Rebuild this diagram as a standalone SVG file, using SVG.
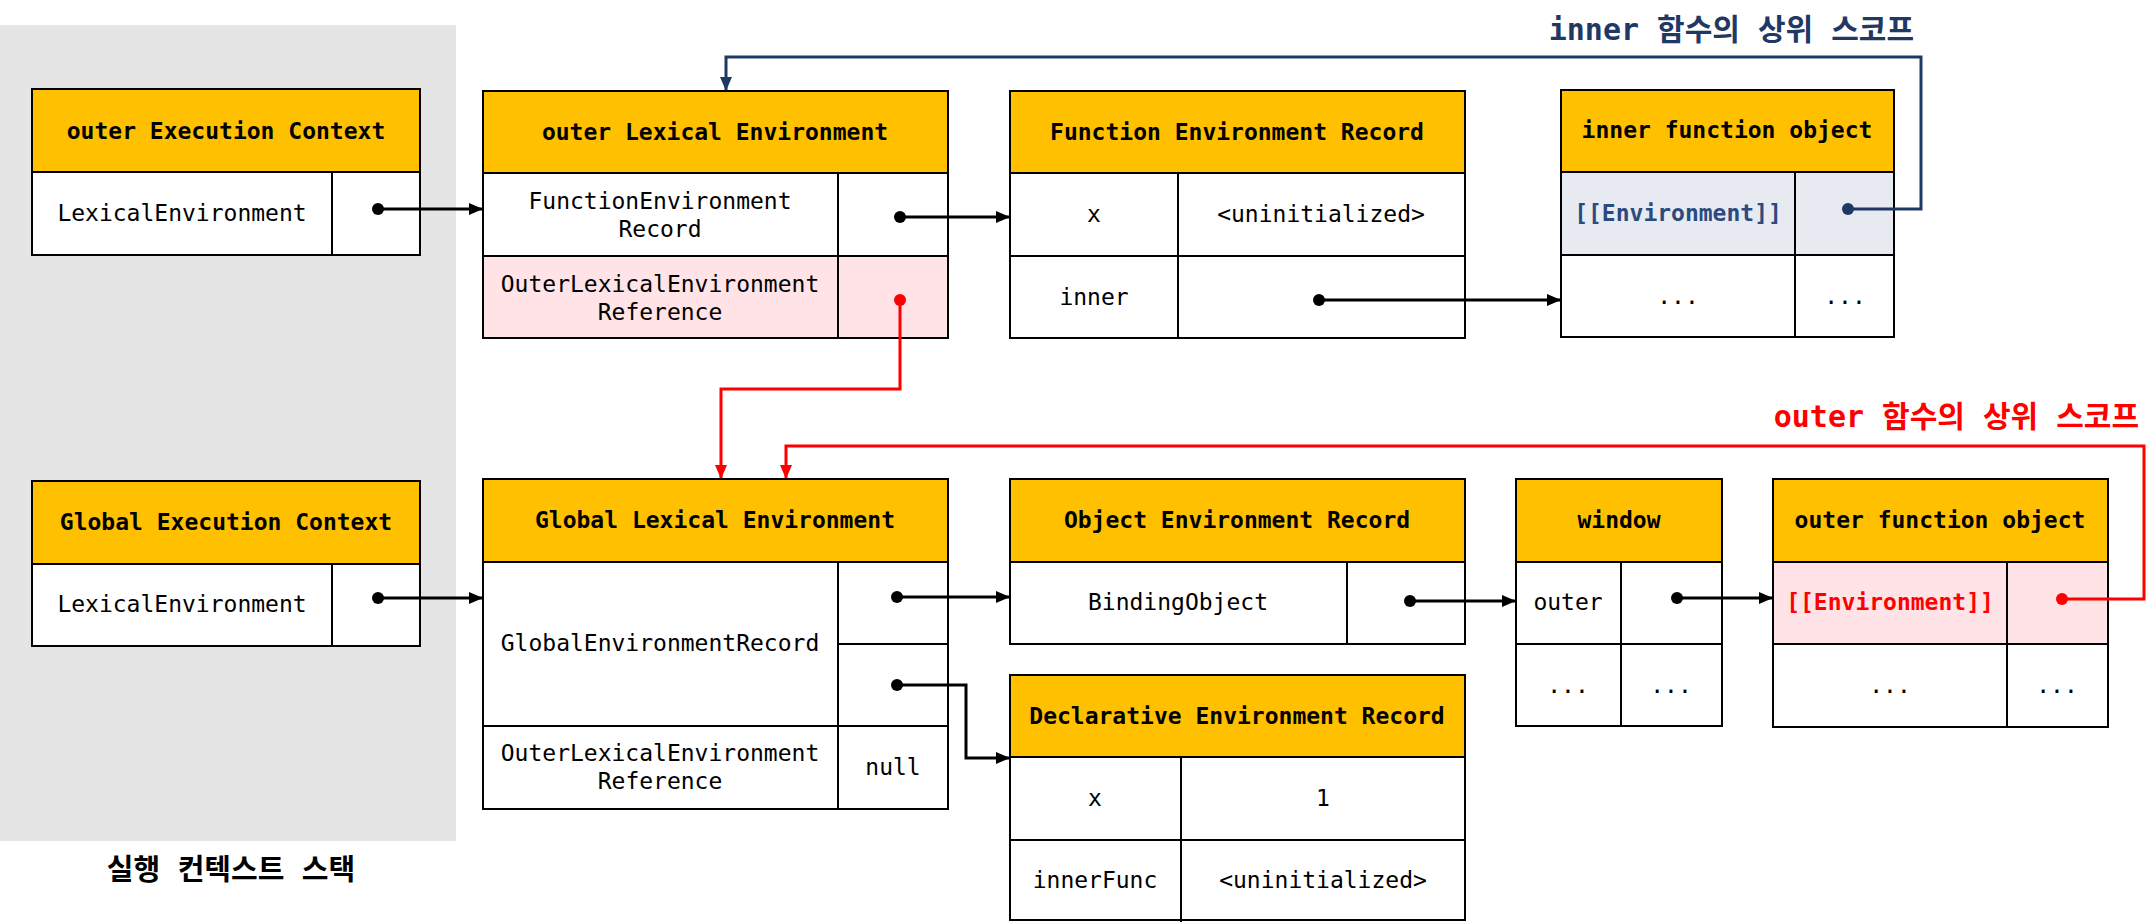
<svg xmlns="http://www.w3.org/2000/svg" width="2156" height="922" viewBox="0 0 2156 922">
<defs>
<style>
text{font-family:"DejaVu Sans Mono","Noto Sans CJK KR",monospace;font-size:23px;fill:#000;text-anchor:middle;dominant-baseline:central}
.h{font-weight:bold}
.box{fill:#fff;stroke:#000;stroke-width:2}
.hd{fill:#ffc000;stroke:#000;stroke-width:2}
.ln{stroke:#000;stroke-width:2;fill:none}
.pink{fill:#ffe3e6;stroke:none}
.bluebg{fill:#e7eaf0;stroke:none}
.c{fill:none;stroke:#000;stroke-width:3}
.cb{fill:none;stroke:#1f3864;stroke-width:3}
.cr{fill:none;stroke:#ff0000;stroke-width:3}
.lbl{font-weight:bold;font-size:30px;text-anchor:end;dominant-baseline:alphabetic}
</style>
<marker id="ak" markerUnits="userSpaceOnUse" markerWidth="14" markerHeight="12" refX="13" refY="6" orient="auto"><path d="M0,0 L14,6 L0,12 Z" fill="#000"/></marker>
<marker id="ab" markerUnits="userSpaceOnUse" markerWidth="14" markerHeight="12" refX="13" refY="6" orient="auto"><path d="M0,0 L14,6 L0,12 Z" fill="#1f3864"/></marker>
<marker id="ar" markerUnits="userSpaceOnUse" markerWidth="14" markerHeight="12" refX="13" refY="6" orient="auto"><path d="M0,0 L14,6 L0,12 Z" fill="#ff0000"/></marker>
</defs>
<rect x="0" y="25" width="456" height="816" fill="#e5e5e5"/>
<text x="231" y="870" class="h" style="font-size:29px">실행 컨텍스트 스택</text>

<g id="outer-ec">
<rect class="box" x="32" y="89" width="388" height="166"/>
<rect class="hd" x="32" y="89" width="388" height="83"/>
<line class="ln" x1="332" y1="172" x2="332" y2="255"/>
<text class="h" x="226" y="131">outer Execution Context</text>
<text x="182" y="213">LexicalEnvironment</text>
</g>

<g id="outer-le">
<rect class="box" x="483" y="91" width="465" height="247"/>
<rect class="pink" x="484" y="256" width="463" height="81"/>
<rect class="hd" x="483" y="91" width="465" height="82"/>
<line class="ln" x1="483" y1="256" x2="948" y2="256"/>
<line class="ln" x1="838" y1="173" x2="838" y2="338"/>
<text class="h" x="715" y="132">outer Lexical Environment</text>
<text x="660" y="201">FunctionEnvironment</text>
<text x="660" y="229">Record</text>
<text x="660" y="284">OuterLexicalEnvironment</text>
<text x="660" y="312">Reference</text>
</g>

<g id="fer">
<rect class="box" x="1010" y="91" width="455" height="247"/>
<rect class="hd" x="1010" y="91" width="455" height="82"/>
<line class="ln" x1="1010" y1="256" x2="1465" y2="256"/>
<line class="ln" x1="1178" y1="173" x2="1178" y2="338"/>
<text class="h" x="1237" y="132">Function Environment Record</text>
<text x="1094" y="214">x</text>
<text x="1321" y="214">&lt;uninitialized&gt;</text>
<text x="1094" y="297">inner</text>
</g>

<g id="inner-fo">
<rect class="box" x="1561" y="90" width="333" height="247"/>
<rect class="bluebg" x="1562" y="172" width="331" height="83"/>
<rect class="hd" x="1561" y="90" width="333" height="82"/>
<line class="ln" x1="1561" y1="255" x2="1894" y2="255"/>
<line class="ln" x1="1795" y1="172" x2="1795" y2="337"/>
<text class="h" x="1727" y="130">inner function object</text>
<text class="h" x="1678" y="213" style="fill:#2b4a80">[[Environment]]</text>
<text x="1678" y="296">...</text>
<text x="1845" y="296">...</text>
</g>

<g id="global-ec">
<rect class="box" x="32" y="481" width="388" height="165"/>
<rect class="hd" x="32" y="481" width="388" height="83"/>
<line class="ln" x1="332" y1="564" x2="332" y2="646"/>
<text class="h" x="226" y="522">Global Execution Context</text>
<text x="182" y="604">LexicalEnvironment</text>
</g>

<g id="global-le">
<rect class="box" x="483" y="479" width="465" height="330"/>
<rect class="hd" x="483" y="479" width="465" height="83"/>
<line class="ln" x1="838" y1="562" x2="838" y2="809"/>
<line class="ln" x1="838" y1="644" x2="948" y2="644"/>
<line class="ln" x1="483" y1="726" x2="948" y2="726"/>
<text class="h" x="715" y="520">Global Lexical Environment</text>
<text x="660" y="643">GlobalEnvironmentRecord</text>
<text x="660" y="753">OuterLexicalEnvironment</text>
<text x="660" y="781">Reference</text>
<text x="893" y="767">null</text>
</g>

<g id="oer">
<rect class="box" x="1010" y="479" width="455" height="165"/>
<rect class="hd" x="1010" y="479" width="455" height="83"/>
<line class="ln" x1="1347" y1="562" x2="1347" y2="644"/>
<text class="h" x="1237" y="520">Object Environment Record</text>
<text x="1178" y="602">BindingObject</text>
</g>

<g id="window">
<rect class="box" x="1516" y="479" width="206" height="247"/>
<rect class="hd" x="1516" y="479" width="206" height="83"/>
<line class="ln" x1="1516" y1="644" x2="1722" y2="644"/>
<line class="ln" x1="1621" y1="562" x2="1621" y2="726"/>
<text class="h" x="1619" y="520">window</text>
<text x="1568" y="602">outer</text>
<text x="1568" y="685">...</text>
<text x="1671" y="685">...</text>
</g>

<g id="outer-fo">
<rect class="box" x="1773" y="479" width="335" height="248"/>
<rect class="pink" x="1774" y="562" width="333" height="82"/>
<rect class="hd" x="1773" y="479" width="335" height="83"/>
<line class="ln" x1="1773" y1="644" x2="2108" y2="644"/>
<line class="ln" x1="2007" y1="562" x2="2007" y2="727"/>
<text class="h" x="1940" y="520">outer function object</text>
<text class="h" x="1890" y="602" style="fill:#ff0000">[[Environment]]</text>
<text x="1890" y="685">...</text>
<text x="2057" y="685">...</text>
</g>

<g id="der">
<rect class="box" x="1010" y="675" width="455" height="245"/>
<rect class="hd" x="1010" y="675" width="455" height="82"/>
<line class="ln" x1="1010" y1="840" x2="1465" y2="840"/>
<line class="ln" x1="1181" y1="757" x2="1181" y2="922"/>
<text class="h" x="1237" y="716">Declarative Environment Record</text>
<text x="1095" y="798">x</text>
<text x="1323" y="798">1</text>
<text x="1095" y="880">innerFunc</text>
<text x="1323" y="880">&lt;uninitialized&gt;</text>
</g>

<g id="connectors">
<path class="c" d="M378,209 H482" marker-end="url(#ak)"/>
<circle cx="378" cy="209" r="6"/>
<path class="c" d="M900,217 H1009" marker-end="url(#ak)"/>
<circle cx="900" cy="217" r="6"/>
<path class="c" d="M1319,300 H1560" marker-end="url(#ak)"/>
<circle cx="1319" cy="300" r="6"/>
<path class="cb" d="M1848,209 H1921 V57 H726 V90" marker-end="url(#ab)"/>
<circle cx="1848" cy="209" r="6" fill="#1f3864"/>
<path class="cr" d="M900,300 V389 H721 V478" marker-end="url(#ar)"/>
<circle cx="900" cy="300" r="6" fill="#ff0000"/>
<path class="cr" d="M2062,599 H2144 V446 H786 V478" marker-end="url(#ar)"/>
<circle cx="2062" cy="599" r="6" fill="#ff0000"/>
<path class="c" d="M378,598 H482" marker-end="url(#ak)"/>
<circle cx="378" cy="598" r="6"/>
<path class="c" d="M897,597 H1009" marker-end="url(#ak)"/>
<circle cx="897" cy="597" r="6"/>
<path class="c" d="M897,685 H966 V758 H1009" marker-end="url(#ak)"/>
<circle cx="897" cy="685" r="6"/>
<path class="c" d="M1410,601 H1515" marker-end="url(#ak)"/>
<circle cx="1410" cy="601" r="6"/>
<path class="c" d="M1677,598 H1772" marker-end="url(#ak)"/>
<circle cx="1677" cy="598" r="6"/>
</g>

<text class="lbl" x="1914" y="40" style="fill:#1f3864">inner 함수의 상위 스코프</text>
<text class="lbl" x="2139" y="427" style="fill:#ff0000">outer 함수의 상위 스코프</text>
</svg>
